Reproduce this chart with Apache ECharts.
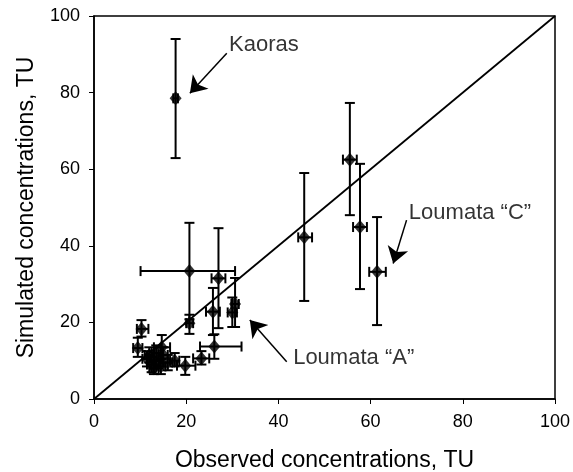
<!DOCTYPE html>
<html>
<head>
<meta charset="utf-8">
<script src="https://cdn.jsdelivr.net/npm/echarts@6/dist/echarts.min.js"></script>
<style>
    html, body { margin: 0; padding: 0; background: #fff; }
    #chart { width: 573px; height: 472px; }
</style>
</head>
<body>
<div id="chart"></div>
<script>
// observed (x) vs simulated (y) concentrations, with error ranges
const obsX  = [17.7, 55.5, 57.7, 61.4, 45.6, 20.7, 27.0, 25.8, 30.6, 30.0, 26.1, 20.7, 10.3, 9.5, 14.7, 23.3, 19.8, 11.5, 12.5, 13.0, 14.0, 15.0, 16.0, 13.5, 17.5, 12.0, 14.5];
const simY  = [78.5, 62.5, 44.9, 33.2, 42.2, 33.4, 31.5, 22.8, 24.8, 22.6, 13.7, 19.8, 18.3, 13.3, 13.5, 10.6, 8.7, 10.5, 9.0, 8.0, 10.0, 11.5, 9.5, 12.0, 10.0, 11.5, 8.5];
const xLow  = [17.2, 54.0, 56.2, 59.7, 44.3, 10.1, 25.5, 24.3, 29.8, 29.0, 23.0, 20.0, 9.3, 8.5, 13.0, 21.5, 18.0, 10.5, 11.5, 12.0, 13.0, 14.0, 15.0, 12.5, 16.5, 11.0, 13.5];
const xHigh = [18.2, 57.0, 59.2, 63.3, 47.3, 30.6, 28.5, 27.3, 31.4, 31.0, 32.0, 21.5, 11.8, 10.5, 16.5, 25.0, 22.0, 12.5, 13.5, 14.0, 15.0, 16.0, 17.0, 14.5, 18.5, 13.0, 15.5];
const yLow  = [62.9, 48.0, 28.7, 19.3, 25.6, 20.8, 18.5, 16.7, 18.8, 18.8, 10.5, 17.0, 16.3, 11.0, 10.5, 9.0, 6.3, 8.5, 7.0, 6.5, 8.0, 9.5, 7.5, 10.0, 8.5, 9.5, 6.5];
const yHigh = [94.0, 77.3, 61.4, 47.5, 59.0, 46.0, 44.6, 29.0, 31.6, 26.5, 16.9, 22.0, 20.6, 16.0, 16.7, 12.5, 11.0, 12.5, 11.0, 10.0, 12.0, 13.5, 11.5, 14.0, 12.0, 13.5, 10.5];

// annotations: text anchor and arrow (tail -> tip), in data units
const noteText  = ["Kaoras", "Loumata \u201cC\u201d", "Loumata \u201cA\u201d"];
const noteAt    = [[29.3, 92.4], [68.3, 48.6], [43.2, 10.6]];
const arrowFrom = [[28.8, 90.3], [67.8, 46.7], [41.8, 9.7]];
const arrowTo   = [[20.8, 79.8], [64.9, 35.4], [33.8, 20.6]];

const FONT = 'Liberation Sans, Arial, sans-serif';
const CAP = 5;

const chart = echarts.init(document.getElementById('chart'));

const points = obsX.map((x, i) => [x, simY[i], xLow[i], xHigh[i], yLow[i], yHigh[i]]);

const renderErrorBars = (params, api) => {
    const x = api.value(0), y = api.value(1);
    const c = api.coord([x, y]);
    const xl = api.coord([api.value(2), y]);
    const xh = api.coord([api.value(3), y]);
    const yl = api.coord([x, api.value(4)]);
    const yh = api.coord([x, api.value(5)]);
    const style = { stroke: '#000', lineWidth: 2 };
    const seg = (x1, y1, x2, y2) => ({ type: 'line', shape: { x1, y1, x2, y2 }, style });
    return {
        type: 'group',
        children: [
            seg(c[0], yl[1], c[0], yh[1]),
            seg(c[0] - CAP, yl[1], c[0] + CAP, yl[1]),
            seg(c[0] - CAP, yh[1], c[0] + CAP, yh[1]),
            seg(xl[0], c[1], xh[0], c[1]),
            seg(xl[0], c[1] - CAP, xl[0], c[1] + CAP),
            seg(xh[0], c[1] - CAP, xh[0], c[1] + CAP)
        ]
    };
};

const axisCommon = {
    type: 'value',
    min: 0,
    max: 100,
    interval: 20,
    axisLine: { show: true, lineStyle: { color: '#000', width: 1.5 } },
    axisTick: { show: true, inside: false, length: 5, lineStyle: { color: '#000', width: 1 } },
    splitLine: { show: false },
    axisLabel: { color: '#000', fontSize: 18, fontFamily: FONT, margin: 14 },
    nameLocation: 'middle',
    nameTextStyle: { color: '#000', fontSize: 23, fontFamily: FONT }
};

chart.setOption({
    animation: false,
    backgroundColor: '#fff',
    grid: {
        left: 94, right: 18, top: 16, bottom: 73,
        containLabel: false,
        outerBoundsMode: 'none',
        show: true, borderColor: '#000', borderWidth: 1.5
    },
    xAxis: Object.assign({}, axisCommon, {
        name: 'Observed concentrations, TU',
        nameGap: 50,
        axisLabel: Object.assign({}, axisCommon.axisLabel, { margin: 14 })
    }),
    yAxis: Object.assign({}, axisCommon, { name: 'Simulated concentrations, TU', nameGap: 56 }),
    series: [
        {
            type: 'line',
            data: [[0, 0], [100, 100]],
            symbol: 'none',
            lineStyle: { color: '#000', width: 1.8 },
            silent: true
        },
        {
            type: 'custom',
            data: points,
            renderItem: renderErrorBars,
            encode: { x: 0, y: 1 },
            z: 3
        },
        {
            type: 'scatter',
            data: points.map(p => [p[0], p[1]]),
            symbol: 'diamond',
            symbolSize: [12, 14],
            itemStyle: { color: '#000' },
            z: 4
        },
        {
            type: 'lines',
            coordinateSystem: 'cartesian2d',
            data: arrowFrom.map((a, i) => ({ coords: [a, arrowTo[i]] })),
            symbol: ['none', 'arrow'],
            symbolSize: [12, 16],
            lineStyle: { color: '#000', width: 1.5, opacity: 1 },
            z: 5
        },
        {
            type: 'scatter',
            data: noteAt.map((p, i) => ({ value: p, name: noteText[i] })),
            symbolSize: 0,
            label: {
                show: true,
                position: 'right',
                distance: 0,
                formatter: '{b}',
                color: '#000',
                fontSize: 22,
                fontFamily: FONT
            },
            silent: true,
            z: 5
        }
    ]
});
</script>
</body>
</html>
